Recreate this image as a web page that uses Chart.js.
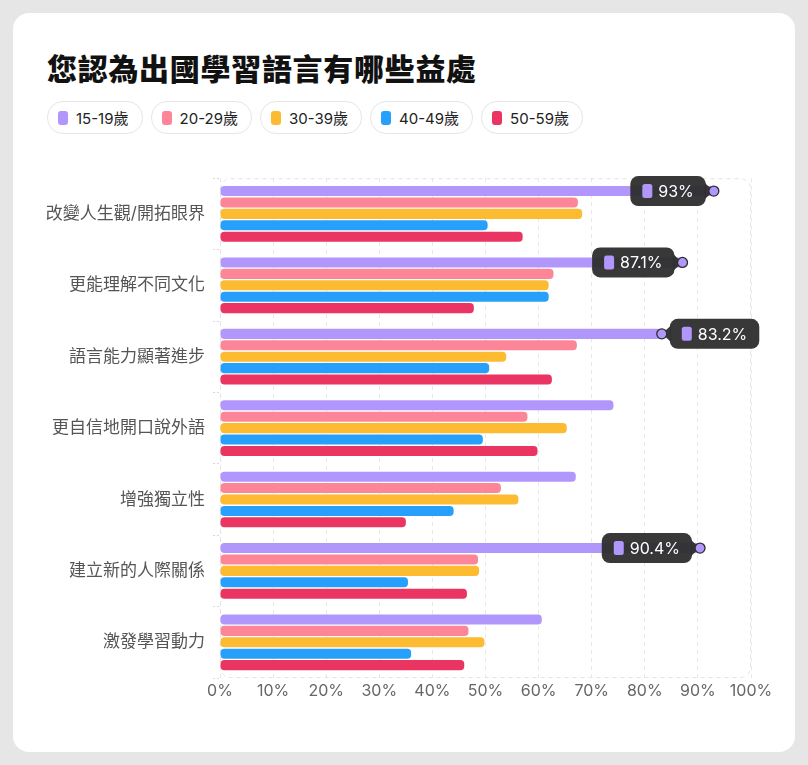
<!DOCTYPE html>
<html>
<head>
<meta charset="utf-8">
<script src="https://cdn.jsdelivr.net/npm/chart.js@4.4.1/dist/chart.umd.min.js"></script>
<style>
  html, body { margin: 0; padding: 0; }
  body { width: 808px; height: 765px; background: #e6e6e6; position: relative; overflow: hidden;
         font-family: Inter, "Noto Sans CJK TC", sans-serif; }
  #card { position: absolute; left: 13px; top: 13px; width: 782px; height: 739px; background: #fff; border-radius: 16px; }
  #title { position: absolute; left: 47px; top: 47px; margin: 0; font-size: 30px; font-weight: 800; color: #111;
           font-family: "Noto Sans CJK TC", sans-serif; line-height: 40px; letter-spacing: 0.7px; }
  #legend { position: absolute; left: 47px; top: 101px; display: flex; gap: 8px; }
  .pill { height: 31px; border: 1px solid #e6e6e6; border-radius: 16px; display: flex; align-items: center;
          padding: 0 13px 0 10px; font-size: 15px; color: #222; }
  .sw { width: 10px; height: 14px; border-radius: 3px; margin-right: 8px; }
  #wrap { position: absolute; left: 30px; top: 160px; width: 750px; height: 550px; }
</style>
</head>
<body>
<div id="card"></div>
<h1 id="title">您認為出國學習語言有哪些益處</h1>
<div id="legend"></div>
<div id="wrap"><canvas id="c"></canvas></div>
<script>
const categories = ['改變人生觀/開拓眼界','更能理解不同文化','語言能力顯著進步','更自信地開口說外語','增強獨立性','建立新的人際關係','激發學習動力'];
const seriesNames = ['15-19歲','20-29歲','30-39歲','40-49歲','50-59歲'];
const age15 = [93, 87.1, 83.2, 74.1, 67.0, 90.4, 60.6];
const age20 = [67.4, 62.8, 67.2, 57.9, 52.9, 48.6, 46.8];
const age30 = [68.2, 61.9, 53.9, 65.3, 56.2, 48.8, 49.8];
const age40 = [50.4, 61.9, 50.7, 49.5, 44.0, 35.4, 36.0];
const age50 = [57.0, 47.8, 62.5, 59.8, 35.0, 46.5, 46.0];
const xTicks = [0,10,20,30,40,50,60,70,80,90,100];
const highlightMin = 80;
const colors = ['#b197fc','#fc8697','#fcbb30','#27a0fc','#ea3462'];
const allSeries = [age15, age20, age30, age40, age50];

const legend = document.getElementById('legend');
seriesNames.forEach((n,i)=>{
  const p = document.createElement('div'); p.className='pill';
  const s = document.createElement('span'); s.className='sw'; s.style.background=colors[i];
  p.appendChild(s); p.appendChild(document.createTextNode(n)); legend.appendChild(p);
});

const FONT = 'Inter, "Noto Sans CJK TC", sans-serif';

const framePlugin = {
  id: 'frame',
  beforeDatasetsDraw(chart) {
    const {ctx, chartArea: a} = chart;
    ctx.save();
    ctx.strokeStyle = '#e4e4e4'; ctx.lineWidth = 1; ctx.setLineDash([4,4]);
    ctx.beginPath();
    ctx.roundRect(a.left+0.5, a.top+0.5, a.right-a.left-1, a.bottom-a.top-1, 10);
    ctx.stroke();
    ctx.restore();
  }
};

const badgePlugin = {
  id: 'badges',
  afterDatasetsDraw(chart) {
    const {ctx, chartArea: a} = chart;
    const meta = chart.getDatasetMeta(0);
    ctx.save();
    age15.forEach((v,i)=>{
      if (v < highlightMin) return;
      const el = meta.data[i];
      const px = el.x, py = el.y;
      const text = v + '%';
      ctx.font = '16px ' + FONT;
      const tw = ctx.measureText(text).width;
      const w = 12 + 10 + 6 + tw + 12, h = 30, gap = 3, r = 5;
      const right = px + r + gap + w <= a.right + 10;
      const boxX = right ? px + r + gap : px - r - gap - w;
      const by = py - h/2;
      ctx.fillStyle = 'rgba(45,45,45,0.95)';
      ctx.beginPath();
      ctx.roundRect(boxX, by, w, h, 8);
      ctx.fill();
      ctx.beginPath();
      if (right) { ctx.moveTo(boxX+1, py-8); ctx.lineTo(px, py); ctx.lineTo(boxX+1, py+8); }
      else { ctx.moveTo(boxX+w-1, py-8); ctx.lineTo(px, py); ctx.lineTo(boxX+w-1, py+8); }
      ctx.closePath(); ctx.fill();
      ctx.fillStyle = colors[0];
      ctx.beginPath(); ctx.roundRect(boxX+12, py-7, 10, 14, 2.5); ctx.fill();
      ctx.fillStyle = '#fff'; ctx.textBaseline = 'middle'; ctx.textAlign = 'left';
      ctx.fillText(text, boxX+28, py+1);
      ctx.beginPath(); ctx.arc(px, py, r, 0, Math.PI*2);
      ctx.fillStyle = colors[0]; ctx.fill();
      ctx.lineWidth = 1.3; ctx.strokeStyle = '#2d2d2d'; ctx.stroke();
    });
    ctx.restore();
  }
};

new Chart(document.getElementById('c'), {
  type: 'bar',
  data: {
    labels: categories,
    datasets: allSeries.map((d,i)=>({
      label: seriesNames[i], data: d, backgroundColor: colors[i],
      borderRadius: 4, borderSkipped: false,
      categoryPercentage: 0.8, barPercentage: 0.88
    }))
  },
  options: {
    indexAxis: 'y',
    responsive: true,
    maintainAspectRatio: false,
    animation: false,
    layout: { padding: { top: 15, right: 29, bottom: 12, left: 0 } },
    plugins: { legend: { display: false }, tooltip: { enabled: false } },
    scales: {
      x: {
        min: 0, max: 100,
        afterBuildTicks(ax){ ax.ticks = xTicks.map(v=>({value:v})); },
        ticks: { callback: v => v + '%', color: '#666', font: { size: 16, family: FONT }, padding: 4 },
        grid: { color: '#e8e8e8', drawTicks: false },
        border: { display: false, dash: [4,4] },
        afterFit(ax){ ax.height = 20; }
      },
      y: {
        ticks: { color: '#555', font: { size: 17, family: FONT }, padding: 8 },
        grid: { drawOnChartArea: false, drawTicks: true, tickLength: 7, color: '#d8d8d8', tickBorderDash:[2,2] },
        border: { display: false },
        afterFit(ax){ ax.width = 190; }
      }
    }
  },
  plugins: [framePlugin, badgePlugin]
});
</script>
</body>
</html>
